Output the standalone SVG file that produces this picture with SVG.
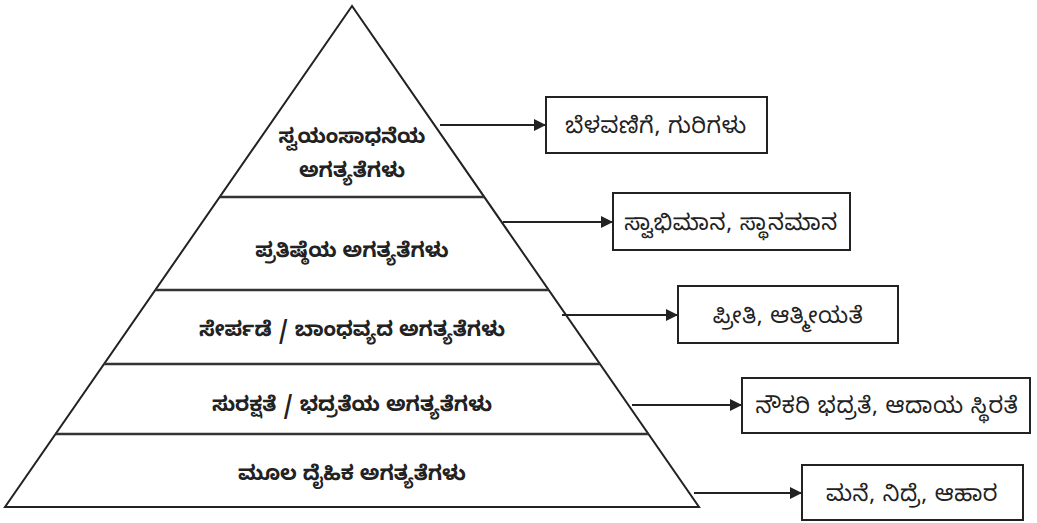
<svg xmlns="http://www.w3.org/2000/svg" width="1037" height="523" viewBox="0 0 1037 523">
<defs>
<style>
.ln{stroke:#222;stroke-width:2;fill:none}
.dv{stroke:#333;stroke-width:2.5;fill:none}
.bx{stroke:#222;stroke-width:2;fill:#fff}
.t{font-family:"Noto Sans Kannada","Noto Sans",sans-serif;font-weight:bold;font-size:20.5px;fill:#222;text-anchor:middle}
.b{font-family:"Noto Sans Kannada","Noto Sans",sans-serif;font-size:22.5px;letter-spacing:0.6px;fill:#222;text-anchor:middle}
.ar{stroke:#222;stroke-width:2;fill:none}
</style>
<marker id="ah" markerWidth="12" markerHeight="12" refX="12" refY="6" orient="auto" markerUnits="userSpaceOnUse" viewBox="0 0 12 12">
<path d="M0,0 L12,6 L0,12 z" fill="#222"/>
</marker>
</defs>
<rect width="1037" height="523" fill="#fff"/>
<g id="pyramid">
<path class="ln" d="M352,6 L5,507 L699,507 Z"/>
<line class="dv" x1="219.7" y1="197" x2="484.3" y2="197"/>
<line class="dv" x1="155.3" y1="290" x2="548.7" y2="290"/>
<line class="dv" x1="104" y1="364" x2="600" y2="364"/>
<line class="dv" x1="55.6" y1="434" x2="648.4" y2="434"/>
</g>
<g id="level5"><text class="t" x="352" y="143">ಸ್ವಯಂಸಾಧನೆಯ</text><text class="t" x="352" y="177">ಅಗತ್ಯತೆಗಳು</text></g>
<g id="level4"><text class="t" x="352" y="257">ಪ್ರತಿಷ್ಠೆಯ ಅಗತ್ಯತೆಗಳು</text></g>
<g id="level3"><text class="t" x="352" y="336">ಸೇರ್ಪಡೆ / ಬಾಂಧವ್ಯದ ಅಗತ್ಯತೆಗಳು</text></g>
<g id="level2"><text class="t" x="352" y="411">ಸುರಕ್ಷತೆ / ಭದ್ರತೆಯ ಅಗತ್ಯತೆಗಳು</text></g>
<g id="level1"><text class="t" x="352" y="480">ಮೂಲ ದೈಹಿಕ ಅಗತ್ಯತೆಗಳು</text></g>
<g id="box1"><rect class="bx" x="546" y="97" width="221" height="56"/><text class="b" x="656" y="133">ಬೆಳವಣಿಗೆ, ಗುರಿಗಳು</text></g>
<g id="box2"><rect class="bx" x="613" y="193" width="237" height="57"/><text class="b" x="731" y="230">ಸ್ವಾಭಿಮಾನ, ಸ್ಥಾನಮಾನ</text></g>
<g id="box3"><rect class="bx" x="678" y="286" width="220" height="57"/><text class="b" x="788" y="323">ಪ್ರೀತಿ, ಆತ್ಮೀಯತೆ</text></g>
<g id="box4"><rect class="bx" x="742" y="378" width="288" height="55"/><text class="b" x="887" y="413">ನೌಕರಿ ಭದ್ರತೆ, ಆದಾಯ ಸ್ಥಿರತೆ</text></g>
<g id="box5"><rect class="bx" x="802" y="465" width="221" height="55"/><text class="b" x="912" y="501">ಮನೆ, ನಿದ್ರೆ, ಆಹಾರ</text></g>
<g id="connectors">
<line class="ar" x1="440" y1="125" x2="546" y2="125" marker-end="url(#ah)"/>
<line class="ar" x1="503" y1="222" x2="613" y2="222" marker-end="url(#ah)"/>
<line class="ar" x1="562" y1="315" x2="678" y2="315" marker-end="url(#ah)"/>
<line class="ar" x1="632" y1="405" x2="742" y2="405" marker-end="url(#ah)"/>
<line class="ar" x1="694" y1="493" x2="802" y2="493" marker-end="url(#ah)"/>
</g>
</svg>
